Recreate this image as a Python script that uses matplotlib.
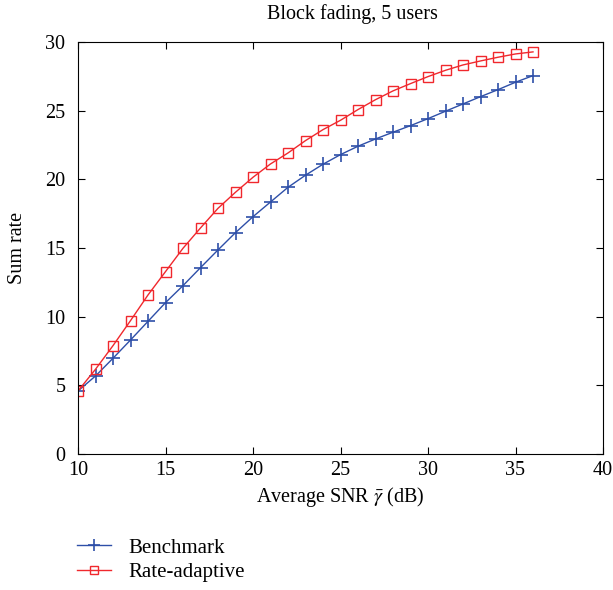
import matplotlib
matplotlib.use('Agg')
import matplotlib.pyplot as plt

plt.rcParams['font.family'] = ['Liberation Serif', 'DejaVu Serif']
plt.rcParams['mathtext.fontset'] = 'stix'

snr = list(range(10, 37))
benchmark = [4.59, 5.68, 6.97, 8.30, 9.66, 11.02, 12.26, 13.57, 14.86, 16.12,
             17.28, 18.35, 19.42, 20.30, 21.10, 21.80, 22.41, 22.94, 23.43, 23.91,
             24.42, 24.96, 25.49, 26.02, 26.53, 27.07, 27.55]
rate_adaptive = [4.59, 6.17, 7.89, 9.71, 11.58, 13.28, 14.98, 16.46, 17.89, 19.06,
                 20.15, 21.12, 21.92, 22.82, 23.62, 24.30, 25.08, 25.80, 26.44, 26.97,
                 27.48, 27.94, 28.33, 28.62, 28.89, 29.13, 29.28]

W, H = 613, 590
fig = plt.figure(figsize=(W / 100, H / 100), dpi=100)
# axes box in pixels: left 78, right 603, top 42, bottom 454
ax = fig.add_axes([78 / W, 1 - 454 / H, 525 / W, 412 / H])

ax.plot(snr, benchmark, color='#2e4fa8', marker='+', markersize=10,
        markeredgewidth=1.2, linewidth=1.0, label='Benchmark')
ax.plot(snr, rate_adaptive, color='#f0282d', marker='s', markersize=7.5,
        markerfacecolor='none', markeredgewidth=1.0, linewidth=1.0,
        label='Rate-adaptive')

ax.set_xlim(10, 40)
ax.set_ylim(0, 30)
ax.set_xticks(range(10, 41, 5))
ax.set_yticks(range(0, 31, 5))
ax.tick_params(direction='in', top=True, right=True, labelsize=14.5, length=5)
ax.tick_params(axis='x', pad=5)
ax.tick_params(axis='y', pad=9)

fig.text(352 / W, 1 - 14 / H, 'Block fading, 5 users', fontsize=14.5,
         ha='center', va='center')
ax.set_xlabel(r'Average SNR $\bar{\gamma}$ (dB)', fontsize=14.5, va='center')
ax.xaxis.set_label_coords(0.5, (454 - 497) / 412)
ax.set_ylabel('Sum rate', fontsize=14.5, va='center')
ax.yaxis.set_label_coords((17 - 78) / 525, 0.5)

fig.legend(*ax.get_legend_handles_labels(), loc='upper left',
           bbox_to_anchor=(77 / W, 1 - 538 / H), frameon=False, borderpad=0,
           borderaxespad=0, fontsize=15, handlelength=1.65, handletextpad=0.8,
           labelspacing=0.25, markerscale=0.8)

plt.savefig('out.png', dpi=100)
plt.close()
